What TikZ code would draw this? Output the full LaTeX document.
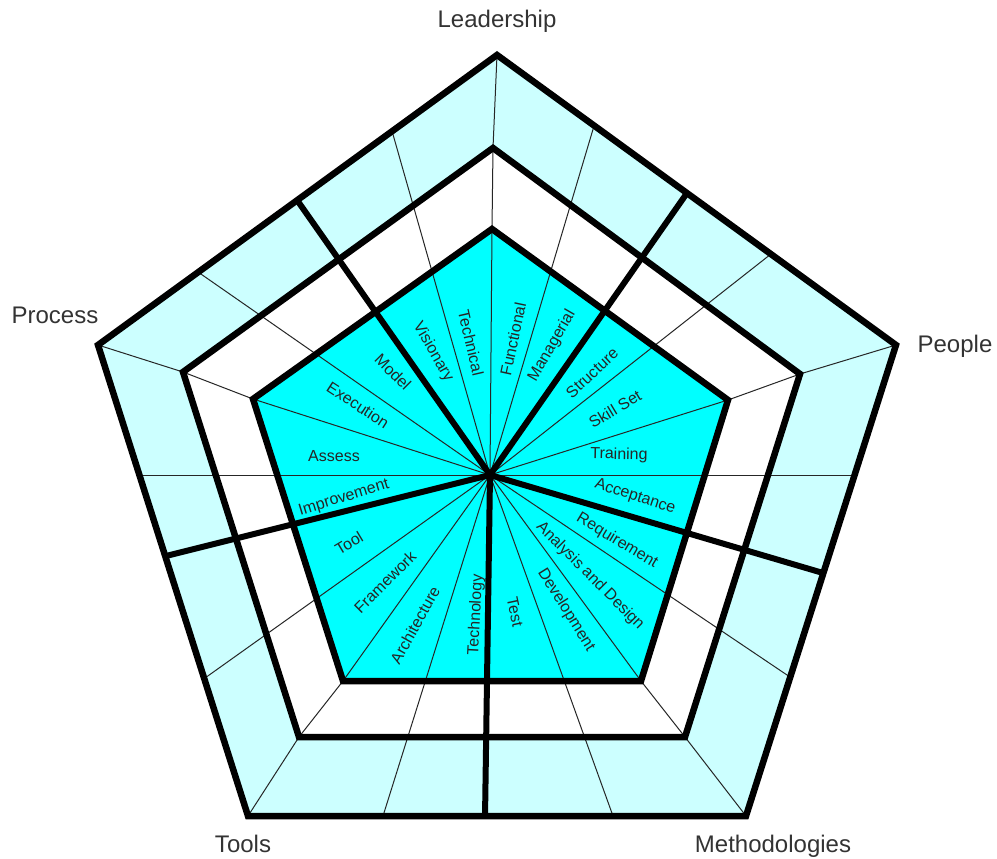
\documentclass[tikz,border=0pt]{standalone}
\usepackage{fontspec}
\setmainfont{Liberation Sans}
\definecolor{ringcyan}{HTML}{CCFFFF}
\definecolor{corecyan}{HTML}{00FFFF}
\begin{document}
\begin{tikzpicture}[x=1pt,y=-1pt,
  rim/.style={line width=6.5pt, line join=miter},
  thinspoke/.style={line width=1pt, black!85},
  thickspoke/.style={line width=6pt},
  seg/.style={font=\fontsize{16}{16}\selectfont, text=black!85, inner sep=0pt},
  axislabel/.style={font=\fontsize{24}{24}\selectfont, text=black!80, inner sep=0pt, anchor=base}]
\useasboundingbox (0,0) rectangle (997,859);
% centre
\coordinate (C) at (490,475);
% outer pentagon
\coordinate (oT) at (497,55);
\coordinate (oR) at (896,345);
\coordinate (oBR) at (746,816);
\coordinate (oBL) at (248,816);
\coordinate (oL) at (98,345);
% middle pentagon
\coordinate (mT) at (493,148);
\coordinate (mR) at (800,374);
\coordinate (mBR) at (685,737);
\coordinate (mBL) at (299,737);
\coordinate (mL) at (183,372);
% inner pentagon
\coordinate (iT) at (492,229);
\coordinate (iR) at (728,400);
\coordinate (iBR) at (641,681);
\coordinate (iBL) at (343,681);
\coordinate (iL) at (253,399);
% thick spoke ends
\coordinate (kUL) at (297,200);
\coordinate (kUR) at (687,193);
\coordinate (kR) at (823,573);
\coordinate (kB) at (485,818);
\coordinate (kL) at (166,556);
% thin spoke ends
\coordinate (t1) at (392,131);
\coordinate (t3) at (594,126);
\coordinate (t4) at (771,254);
\coordinate (t6) at (855,475);
\coordinate (t7) at (790,677);
\coordinate (t9) at (613,816);
\coordinate (t10) at (383,816);
\coordinate (t12) at (205,678);
\coordinate (t13) at (139,475);
\coordinate (t15) at (198,272);
% fills
\fill[ringcyan] (oT) -- (oR) -- (oBR) -- (oBL) -- (oL) -- cycle;
\fill[white] (mT) -- (mR) -- (mBR) -- (mBL) -- (mL) -- cycle;
\fill[corecyan] (iT) -- (iR) -- (iBR) -- (iBL) -- (iL) -- cycle;
% thin spokes
\foreach \p in {t1,t3,t4,t6,t7,t9,t10,t12,t13,t15}
  \draw[thinspoke] (C) -- (\p);
\foreach \v in {T,R,BR,BL,L}
  \draw[thinspoke] (C) -- (i\v) -- (m\v) -- (o\v);
% thick spokes
\foreach \p in {kUL,kUR,kR,kB,kL}
  \draw[thickspoke] (C) -- (\p);
% pentagon outlines
\draw[rim] (oT) -- (oR) -- (oBR) -- (oBL) -- (oL) -- cycle;
\draw[rim] (mT) -- (mR) -- (mBR) -- (mBL) -- (mL) -- cycle;
\draw[rim] (iT) -- (iR) -- (iBR) -- (iBL) -- (iL) -- cycle;
% segment labels
\node[seg, rotate=-60] (lVis) at (433,352) {Visionary};
\node[seg, rotate=-77] (lTec) at (471,343) {Technical};
\node[seg, rotate=78] (lFun) at (513,339) {Functional};
\node[seg, rotate=60] (lMan) at (552,346) {Managerial};
\node[seg, rotate=43] (lStr) at (592,373) {Structure};
\node[seg, rotate=31] (lSki) at (615,409) {Skill Set};
\node[seg, rotate=-1] (lTra) at (619,455) {Training};
\node[seg, rotate=-18] (lAcc) at (635,497) {Acceptance};
\node[seg, rotate=-31] (lReq) at (617,541) {Requirement};
\node[seg, rotate=-45] (lAna) at (590,576) {Analysis and Design};
\node[seg, rotate=-58] (lDev) at (566,610) {Development};
\node[seg, rotate=-78] (lTes) at (515,612) {Test};
\node[seg, rotate=87] (lTec2) at (476,615) {Technology};
\node[seg, rotate=61] (lArc) at (415,625) {Architecture};
\node[seg, rotate=45] (lFra) at (385,582) {Framework};
\node[seg, rotate=31] (lToo) at (349,543) {Tool};
\node[seg, rotate=17] (lImp) at (344,498) {Improvement};
\node[seg] (lAss) at (334,456) {Assess};
\node[seg, rotate=-33] (lExe) at (358,405) {Execution};
\node[seg, rotate=-45] (lMod) at (393,372) {Model};
% axis labels
\node[axislabel] (aLead) at (497,28) {Leadership};
\node[axislabel] (aPeop) at (955,352) {People};
\node[axislabel] (aMeth) at (773,852) {Methodologies};
\node[axislabel] (aTool) at (243,852) {Tools};
\node[axislabel] (aProc) at (55,323) {Process};
\end{tikzpicture}
\end{document}
